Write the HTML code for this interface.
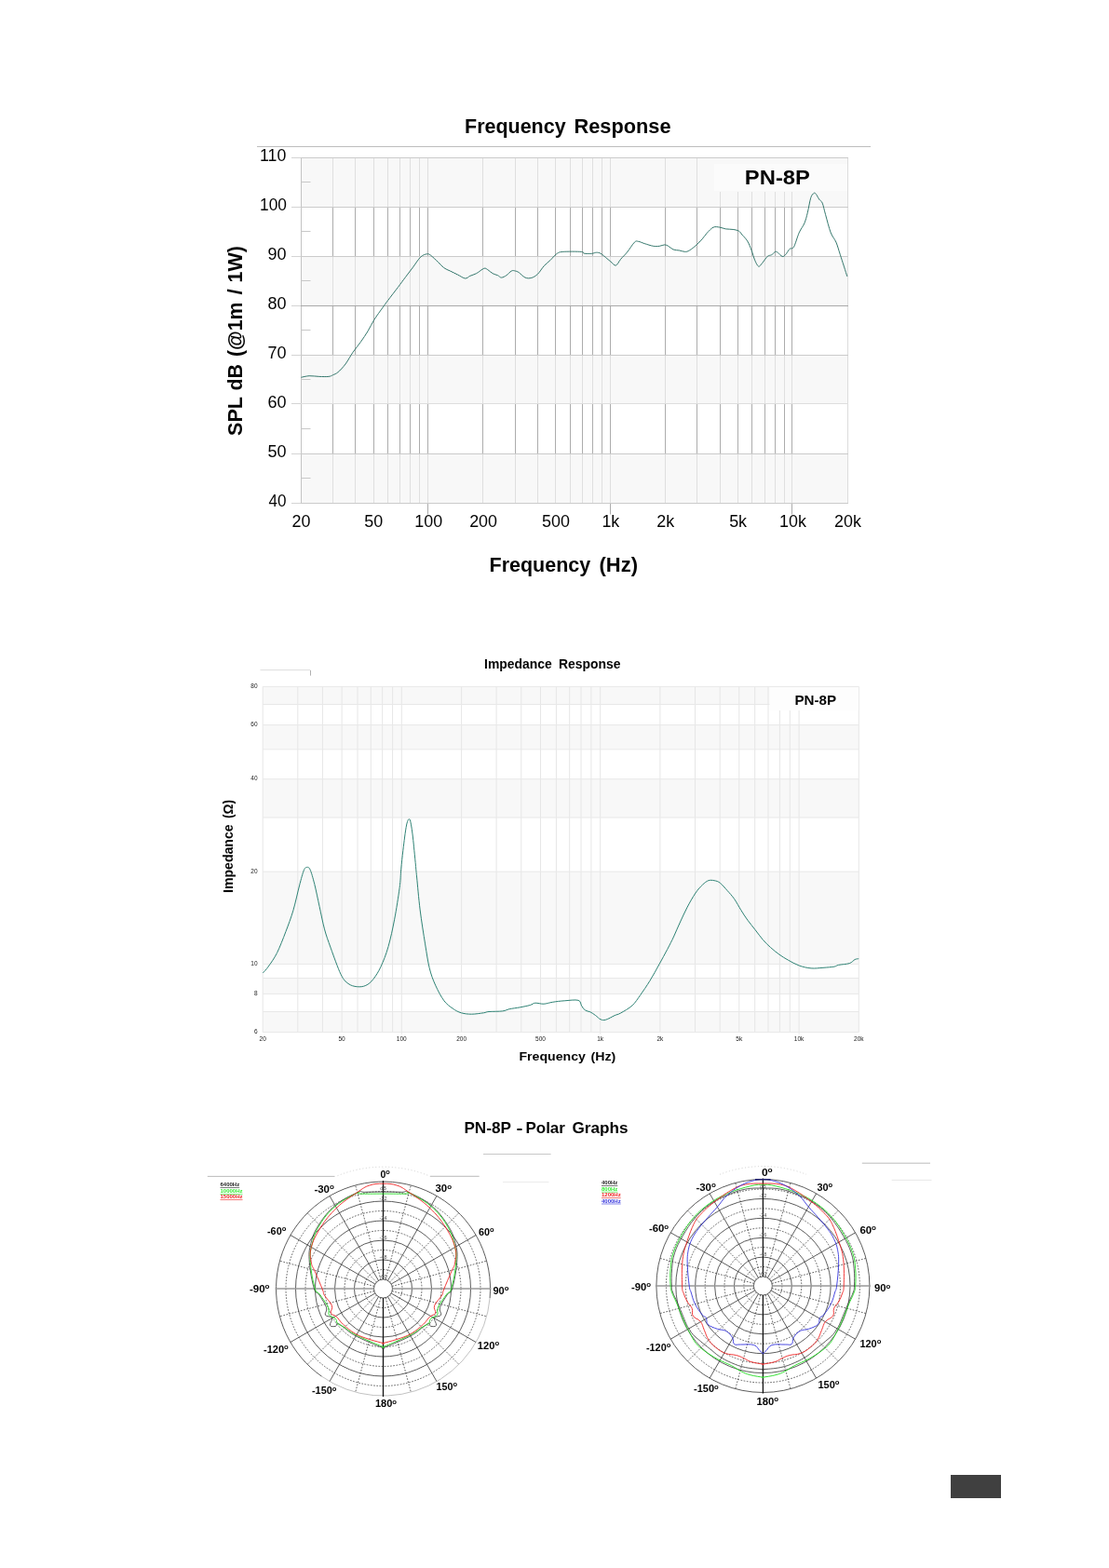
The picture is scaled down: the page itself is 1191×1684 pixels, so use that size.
<!DOCTYPE html>
<html><head><meta charset="utf-8"><title>PN-8P</title>
<style>html,body{margin:0;padding:0;background:#fff;}svg{display:block;}</style></head>
<body>
<svg width="1191" height="1684" viewBox="0 0 1191 1684">
<rect width="1191" height="1684" fill="#fff"/>
<g id="fr">
<line x1="357.5" y1="169.5" x2="357.5" y2="540.5" stroke="#acacac" stroke-width="1"/>
<line x1="381.5" y1="169.5" x2="381.5" y2="540.5" stroke="#acacac" stroke-width="1"/>
<line x1="401.5" y1="169.5" x2="401.5" y2="540.5" stroke="#acacac" stroke-width="1"/>
<line x1="416.5" y1="169.5" x2="416.5" y2="540.5" stroke="#acacac" stroke-width="1"/>
<line x1="429.5" y1="169.5" x2="429.5" y2="540.5" stroke="#acacac" stroke-width="1"/>
<line x1="440.5" y1="169.5" x2="440.5" y2="540.5" stroke="#acacac" stroke-width="1"/>
<line x1="450.5" y1="169.5" x2="450.5" y2="540.5" stroke="#acacac" stroke-width="1"/>
<line x1="459.5" y1="169.5" x2="459.5" y2="552.5" stroke="#acacac" stroke-width="1"/>
<line x1="518.5" y1="169.5" x2="518.5" y2="540.5" stroke="#acacac" stroke-width="1"/>
<line x1="553.5" y1="169.5" x2="553.5" y2="540.5" stroke="#acacac" stroke-width="1"/>
<line x1="577.5" y1="169.5" x2="577.5" y2="540.5" stroke="#acacac" stroke-width="1"/>
<line x1="596.5" y1="169.5" x2="596.5" y2="540.5" stroke="#acacac" stroke-width="1"/>
<line x1="612.5" y1="169.5" x2="612.5" y2="540.5" stroke="#acacac" stroke-width="1"/>
<line x1="625.5" y1="169.5" x2="625.5" y2="540.5" stroke="#acacac" stroke-width="1"/>
<line x1="636.5" y1="169.5" x2="636.5" y2="540.5" stroke="#acacac" stroke-width="1"/>
<line x1="646.5" y1="169.5" x2="646.5" y2="540.5" stroke="#acacac" stroke-width="1"/>
<line x1="655.5" y1="169.5" x2="655.5" y2="552.5" stroke="#acacac" stroke-width="1"/>
<line x1="714.5" y1="169.5" x2="714.5" y2="540.5" stroke="#acacac" stroke-width="1"/>
<line x1="748.5" y1="169.5" x2="748.5" y2="540.5" stroke="#acacac" stroke-width="1"/>
<line x1="773.5" y1="169.5" x2="773.5" y2="540.5" stroke="#acacac" stroke-width="1"/>
<line x1="792.5" y1="169.5" x2="792.5" y2="540.5" stroke="#acacac" stroke-width="1"/>
<line x1="807.5" y1="169.5" x2="807.5" y2="540.5" stroke="#acacac" stroke-width="1"/>
<line x1="821.5" y1="169.5" x2="821.5" y2="540.5" stroke="#acacac" stroke-width="1"/>
<line x1="832.5" y1="169.5" x2="832.5" y2="540.5" stroke="#acacac" stroke-width="1"/>
<line x1="842.5" y1="169.5" x2="842.5" y2="540.5" stroke="#acacac" stroke-width="1"/>
<line x1="850.5" y1="169.5" x2="850.5" y2="552.5" stroke="#acacac" stroke-width="1"/>
<rect x="323.5" y="169.5" width="587" height="53" fill="#f5f5f5" fill-opacity="0.7"/>
<rect x="323.5" y="275.5" width="587" height="53" fill="#f5f5f5" fill-opacity="0.7"/>
<rect x="323.5" y="381.5" width="587" height="52" fill="#f5f5f5" fill-opacity="0.7"/>
<rect x="323.5" y="487.5" width="587" height="53" fill="#f5f5f5" fill-opacity="0.7"/>
<rect x="760" y="169.5" width="150.5" height="36.5" fill="#f8f8f8"/>
<rect x="767" y="176" width="143" height="29" fill="#fbfbfb"/>
<line x1="323.5" y1="169.5" x2="323.5" y2="540.5" stroke="#c4c4c4" stroke-width="1"/>
<line x1="910.5" y1="169.5" x2="910.5" y2="540.5" stroke="#dcdcdc" stroke-width="1"/>
<line x1="313" y1="540.5" x2="323" y2="540.5" stroke="#d4d4d4" stroke-width="1"/>
<line x1="323" y1="540.5" x2="911" y2="540.5" stroke="#cbcbcb" stroke-width="1"/>
<line x1="313" y1="487.5" x2="323" y2="487.5" stroke="#d4d4d4" stroke-width="1"/>
<line x1="323" y1="487.5" x2="911" y2="487.5" stroke="#cbcbcb" stroke-width="1"/>
<line x1="313" y1="433.5" x2="323" y2="433.5" stroke="#d4d4d4" stroke-width="1"/>
<line x1="323" y1="433.5" x2="911" y2="433.5" stroke="#dedede" stroke-width="1"/>
<line x1="313" y1="381.5" x2="323" y2="381.5" stroke="#d4d4d4" stroke-width="1"/>
<line x1="323" y1="381.5" x2="911" y2="381.5" stroke="#cbcbcb" stroke-width="1"/>
<line x1="313" y1="328.5" x2="323" y2="328.5" stroke="#d4d4d4" stroke-width="1"/>
<line x1="323" y1="328.5" x2="911" y2="328.5" stroke="#a9a9a9" stroke-width="1"/>
<line x1="313" y1="275.5" x2="323" y2="275.5" stroke="#d4d4d4" stroke-width="1"/>
<line x1="323" y1="275.5" x2="911" y2="275.5" stroke="#cbcbcb" stroke-width="1"/>
<line x1="313" y1="222.5" x2="323" y2="222.5" stroke="#d4d4d4" stroke-width="1"/>
<line x1="323" y1="222.5" x2="911" y2="222.5" stroke="#cbcbcb" stroke-width="1"/>
<line x1="313" y1="169.5" x2="323" y2="169.5" stroke="#d4d4d4" stroke-width="1"/>
<line x1="323" y1="169.5" x2="911" y2="169.5" stroke="#cbcbcb" stroke-width="1"/>
<line x1="323.5" y1="195.5" x2="333.5" y2="195.5" stroke="#c8c8c8" stroke-width="1"/>
<line x1="323.5" y1="248.5" x2="333.5" y2="248.5" stroke="#c8c8c8" stroke-width="1"/>
<line x1="323.5" y1="301.5" x2="333.5" y2="301.5" stroke="#c8c8c8" stroke-width="1"/>
<line x1="323.5" y1="354.5" x2="333.5" y2="354.5" stroke="#c8c8c8" stroke-width="1"/>
<line x1="323.5" y1="407.5" x2="333.5" y2="407.5" stroke="#c8c8c8" stroke-width="1"/>
<line x1="323.5" y1="460.5" x2="333.5" y2="460.5" stroke="#c8c8c8" stroke-width="1"/>
<line x1="323.5" y1="513.5" x2="333.5" y2="513.5" stroke="#c8c8c8" stroke-width="1"/>
<line x1="276" y1="157.5" x2="935" y2="157.5" stroke="#bdbdbd" stroke-width="1"/>
<path d="M323.4,405.3 C324.8,405 328.9,403.9 332.1,403.7 C335.3,403.5 339.3,404.3 342.8,404.4 C346.3,404.5 350.4,404.7 352.9,404.4 C355.4,404.1 355.9,403.5 357.6,402.7 C359.3,401.9 360.8,401.6 363,399.7 C365.2,397.8 368.3,394.6 371,391 C373.7,387.4 376.4,382.1 379.1,378.2 C381.8,374.3 384.5,371.3 387.2,367.5 C389.9,363.7 392.8,359.4 395.2,355.4 C397.6,351.4 399.2,347.6 401.9,343.3 C404.6,339.1 408.8,333.4 411.3,329.9 C413.8,326.4 414,326.1 416.7,322.5 C419.4,318.9 424.4,312.5 427.5,308.4 C430.6,304.2 432.8,301.2 435.5,297.6 C438.2,294 440.9,290.5 443.6,286.9 C446.3,283.3 449.1,278.5 451.6,276.1 C454.1,273.8 456.6,273.1 458.4,272.8 C460.2,272.5 460.4,272.7 462.4,274.1 C464.4,275.6 468.1,279.2 470.5,281.5 C472.9,283.8 474.6,286 476.7,287.6 C478.8,289.2 480.9,289.8 483.4,291 C485.9,292.2 488.8,293.7 491.5,295 C494.2,296.3 497.4,298.8 499.6,299 C501.8,299.2 502.9,297.2 504.9,296.3 C506.9,295.4 509.1,295 511.6,293.7 C514.1,292.4 517.7,289 519.7,288.3 C521.7,287.6 522.1,288.7 523.7,289.6 C525.3,290.5 527.3,292.7 529.1,293.7 C530.9,294.7 532.9,295 534.5,295.7 C536.1,296.4 536.9,298.1 538.5,298.1 C540.1,298.1 542.1,296.9 543.9,295.7 C545.7,294.5 547.7,291.8 549.3,291 C550.9,290.2 552,290.7 553.3,291 C554.6,291.3 555.5,291.5 557.3,292.7 C559.1,293.9 561.8,297.2 564,298.1 C566.2,299.1 568.5,299 570.8,298.4 C573,297.8 575.3,296.4 577.5,294.3 C579.7,292.2 582,288.1 584.2,285.6 C586.4,283.2 588.7,281.7 590.9,279.6 C593.1,277.5 595.4,274.3 597.6,272.8 C599.8,271.3 599.8,270.8 604.3,270.4 C608.8,270 620.7,270.1 624.5,270.4 C628.3,270.7 625.3,271.9 627.2,272.2 C629.1,272.5 633.5,272.5 635.7,272.3 C637.9,272.1 638.8,271.2 640.4,271.2 C642,271.2 643.3,271.2 645.2,272.3 C647.1,273.4 650.1,276.2 651.9,277.7 C653.7,279.1 654.3,279.8 655.9,281 C657.5,282.2 659.5,285.5 661.3,285.1 C663.1,284.7 664.6,280.8 666.6,278.4 C668.6,276 670.9,274 673.4,271 C675.9,268 679.4,262.1 681.4,260.2 C683.4,258.2 683.7,259.1 685.5,259.3 C687.3,259.5 689.5,260.8 692.2,261.6 C694.9,262.4 698.9,263.9 701.6,264.3 C704.3,264.8 706.3,264.5 708.3,264.3 C710.3,264.1 712.1,262.9 713.7,262.9 C715.3,262.9 716.1,263.4 717.7,264.3 C719.3,265.2 721.1,267.2 723.1,268 C725.1,268.8 727.8,268.6 729.8,269 C731.8,269.4 733.6,270.2 735.2,270.3 C736.8,270.4 737.4,270.5 739.2,269.6 C741,268.7 743.4,267 745.9,264.9 C748.4,262.8 751.8,259.3 754,256.9 C756.2,254.4 757.3,252.3 759.3,250.2 C761.3,248.1 763.9,245.1 766.1,244.1 C768.4,243.1 770.6,243.8 772.8,244.1 C775,244.4 777,245.5 779.5,245.9 C782,246.3 785.5,246.1 787.9,246.5 C790.2,246.9 792.1,247.3 793.6,248.2 C795.1,249.1 795.5,250.3 797,252.1 C798.5,253.9 801,256.1 802.7,258.9 C804.4,261.7 805.9,265.7 807.2,269.1 C808.5,272.5 809.4,276.5 810.6,279.3 C811.8,282.1 813.3,285.5 814.6,286.1 C815.9,286.7 816.9,284.5 818.5,282.7 C820.1,280.9 822.5,276.9 824.2,275.4 C825.9,273.9 827.3,274.5 828.7,273.7 C830.1,272.9 831.6,270.7 832.7,270.3 C833.8,269.9 834.3,270.5 835.5,271.4 C836.7,272.2 838.8,275 840.1,275.4 C841.4,275.8 842.2,275 843.5,273.7 C844.8,272.4 846.5,268.8 848,267.4 C849.5,266 850.8,268.1 852.5,265.2 C854.2,262.3 856.3,254.2 858.2,249.9 C860.1,245.7 862.4,243.3 863.9,239.7 C865.4,236.1 866.2,232.8 867.3,228.3 C868.4,223.8 869.6,216 870.7,212.5 C871.8,209 873.2,208.1 874.1,207.4 C875,206.7 875.5,207.4 876.4,208.5 C877.3,209.6 878.7,212.6 879.8,214.2 C880.9,215.8 882.1,215.4 883.2,218.1 C884.3,220.8 885.1,225.3 886.6,230.6 C888.1,235.9 890.3,245 892.2,249.9 C894.1,254.8 896.2,256.1 897.9,260.1 C899.6,264.1 900.4,267.6 902.4,273.7 C904.4,279.8 908.6,293 909.8,296.9" fill="none" stroke="#2a7064" stroke-width="0.95"/>
</g>
<g id="imp">
<rect x="282.2" y="737.4" width="640.1" height="19.1" fill="#f8f8f8"/>
<rect x="282.2" y="778.6" width="640.1" height="26.1" fill="#f8f8f8"/>
<rect x="282.2" y="836.7" width="640.1" height="41.2" fill="#f8f8f8"/>
<rect x="282.2" y="936.1" width="640.1" height="99.3" fill="#f8f8f8"/>
<rect x="282.2" y="1050.5" width="640.1" height="16.9" fill="#f8f8f8"/>
<rect x="282.2" y="1086.5" width="640.1" height="22.1" fill="#f8f8f8"/>
<line x1="282.2" y1="737.4" x2="282.2" y2="1108.6" stroke="#e6e6e6" stroke-width="1"/>
<line x1="319.8" y1="737.4" x2="319.8" y2="1108.6" stroke="#e6e6e6" stroke-width="1"/>
<line x1="346.4" y1="737.4" x2="346.4" y2="1108.6" stroke="#e6e6e6" stroke-width="1"/>
<line x1="367.1" y1="737.4" x2="367.1" y2="1108.6" stroke="#e6e6e6" stroke-width="1"/>
<line x1="384" y1="737.4" x2="384" y2="1108.6" stroke="#e6e6e6" stroke-width="1"/>
<line x1="398.3" y1="737.4" x2="398.3" y2="1108.6" stroke="#e6e6e6" stroke-width="1"/>
<line x1="410.7" y1="737.4" x2="410.7" y2="1108.6" stroke="#e6e6e6" stroke-width="1"/>
<line x1="421.6" y1="737.4" x2="421.6" y2="1108.6" stroke="#e6e6e6" stroke-width="1"/>
<line x1="431.3" y1="737.4" x2="431.3" y2="1110.6" stroke="#e6e6e6" stroke-width="1"/>
<line x1="495.6" y1="737.4" x2="495.6" y2="1108.6" stroke="#e6e6e6" stroke-width="1"/>
<line x1="533.1" y1="737.4" x2="533.1" y2="1108.6" stroke="#e6e6e6" stroke-width="1"/>
<line x1="559.8" y1="737.4" x2="559.8" y2="1108.6" stroke="#e6e6e6" stroke-width="1"/>
<line x1="580.5" y1="737.4" x2="580.5" y2="1108.6" stroke="#e6e6e6" stroke-width="1"/>
<line x1="597.4" y1="737.4" x2="597.4" y2="1108.6" stroke="#e6e6e6" stroke-width="1"/>
<line x1="611.7" y1="737.4" x2="611.7" y2="1108.6" stroke="#e6e6e6" stroke-width="1"/>
<line x1="624" y1="737.4" x2="624" y2="1108.6" stroke="#e6e6e6" stroke-width="1"/>
<line x1="634.9" y1="737.4" x2="634.9" y2="1108.6" stroke="#e6e6e6" stroke-width="1"/>
<line x1="644.7" y1="737.4" x2="644.7" y2="1110.6" stroke="#e6e6e6" stroke-width="1"/>
<line x1="708.9" y1="737.4" x2="708.9" y2="1108.6" stroke="#e6e6e6" stroke-width="1"/>
<line x1="746.5" y1="737.4" x2="746.5" y2="1108.6" stroke="#e6e6e6" stroke-width="1"/>
<line x1="773.2" y1="737.4" x2="773.2" y2="1108.6" stroke="#e6e6e6" stroke-width="1"/>
<line x1="793.8" y1="737.4" x2="793.8" y2="1108.6" stroke="#e6e6e6" stroke-width="1"/>
<line x1="810.7" y1="737.4" x2="810.7" y2="1108.6" stroke="#e6e6e6" stroke-width="1"/>
<line x1="825" y1="737.4" x2="825" y2="1108.6" stroke="#e6e6e6" stroke-width="1"/>
<line x1="837.4" y1="763" x2="837.4" y2="1108.6" stroke="#e6e6e6" stroke-width="1"/>
<line x1="848.3" y1="763" x2="848.3" y2="1108.6" stroke="#e6e6e6" stroke-width="1"/>
<line x1="858.1" y1="763" x2="858.1" y2="1110.6" stroke="#e6e6e6" stroke-width="1"/>
<line x1="922.3" y1="737.4" x2="922.3" y2="1108.6" stroke="#e6e6e6" stroke-width="1"/>
<line x1="282.2" y1="737.4" x2="922.3" y2="737.4" stroke="#e8e8e8" stroke-width="1"/>
<line x1="282.2" y1="756.5" x2="922.3" y2="756.5" stroke="#e8e8e8" stroke-width="1"/>
<line x1="282.2" y1="778.6" x2="922.3" y2="778.6" stroke="#e8e8e8" stroke-width="1"/>
<line x1="282.2" y1="804.8" x2="922.3" y2="804.8" stroke="#e8e8e8" stroke-width="1"/>
<line x1="282.2" y1="836.7" x2="922.3" y2="836.7" stroke="#e8e8e8" stroke-width="1"/>
<line x1="282.2" y1="878" x2="922.3" y2="878" stroke="#e8e8e8" stroke-width="1"/>
<line x1="282.2" y1="936.1" x2="922.3" y2="936.1" stroke="#e8e8e8" stroke-width="1"/>
<line x1="282.2" y1="1035.4" x2="922.3" y2="1035.4" stroke="#e8e8e8" stroke-width="1"/>
<line x1="282.2" y1="1050.5" x2="922.3" y2="1050.5" stroke="#e8e8e8" stroke-width="1"/>
<line x1="282.2" y1="1067.4" x2="922.3" y2="1067.4" stroke="#e8e8e8" stroke-width="1"/>
<line x1="282.2" y1="1086.5" x2="922.3" y2="1086.5" stroke="#e8e8e8" stroke-width="1"/>
<line x1="282.2" y1="1108.6" x2="922.3" y2="1108.6" stroke="#e8e8e8" stroke-width="1"/>
<rect x="826.5" y="738" width="95.5" height="25" fill="#fdfdfd"/>
<line x1="279.5" y1="719.6" x2="333.5" y2="719.6" stroke="#dedede" stroke-width="1"/>
<line x1="333.5" y1="720" x2="333.5" y2="725.6" stroke="#b0b0b0" stroke-width="1"/>
<path d="M282.4,1044.9 C283.3,1043.8 285.6,1041.8 288.1,1038.2 C290.6,1034.6 294.4,1029.7 297.5,1023.4 C300.6,1017.1 304,1008.2 306.9,1000.6 C309.8,993 312.4,986.1 314.9,977.8 C317.3,969.5 319.7,958.1 321.6,950.9 C323.5,943.7 325,938 326.3,934.8 C327.6,931.5 328.6,931.5 329.7,931.4 C330.8,931.3 331.8,931.1 333.1,934.1 C334.5,937.1 336.1,943 337.8,949.6 C339.5,956.2 341.3,965.7 343.1,973.7 C344.9,981.8 346.5,990.5 348.5,997.9 C350.5,1005.3 352.3,1010 355.2,1018.1 C358.1,1026.2 362.9,1039.9 366,1046.3 C369.1,1052.7 371.1,1054.2 374,1056.4 C376.9,1058.6 380.3,1059.4 383.4,1059.7 C386.5,1060 389.9,1059.8 392.8,1058.4 C395.7,1057.1 398.2,1055 400.9,1051.6 C403.6,1048.2 406.3,1044 409,1038.2 C411.7,1032.4 414.6,1025.2 417,1016.7 C419.4,1008.2 421.7,997.7 423.7,987.2 C425.7,976.7 427.9,962.5 429.1,953.6 C430.3,944.7 430.1,940.4 430.7,933.8 C431.3,927.1 432.1,919.5 432.8,913.7 C433.5,907.9 434,903.6 434.6,899 C435.2,894.4 436,889 436.6,886 C437.2,883 437.8,881.8 438.2,880.8 C438.6,879.8 438.9,879.8 439.3,879.8 C439.7,879.8 440.1,879.6 440.5,881 C440.9,882.4 441.4,885 441.9,888 C442.4,891 442.9,894.7 443.4,899 C443.9,903.3 444.4,908.5 444.9,913.7 C445.4,918.9 446.1,925.7 446.5,930.4 C446.9,935.1 446.8,934.2 447.6,942 C448.4,949.8 449.6,964.9 451.1,976.9 C452.6,988.9 454.9,1003.4 456.6,1013.9 C458.3,1024.4 459.4,1032.3 461.2,1039.7 C463,1047.1 465.1,1052.4 467.7,1058.2 C470.3,1064 473.8,1070.7 476.9,1074.8 C480,1078.9 483.1,1080.9 486.2,1083.1 C489.3,1085.3 492,1086.8 495.4,1087.8 C498.8,1088.8 502.5,1089.2 506.5,1089.2 C510.5,1089.2 516.3,1088.2 519.4,1087.8 C522.5,1087.3 521.6,1086.8 525,1086.5 C528.4,1086.2 536,1086.4 539.7,1085.9 C543.4,1085.4 544,1084.4 547.1,1083.7 C550.2,1083 554.5,1082.6 558.2,1081.9 C561.9,1081.2 566.5,1080.3 569.3,1079.5 C572.1,1078.7 572.3,1077.4 574.8,1077.2 C577.3,1077 581,1078.4 584.1,1078.2 C587.2,1078 589.6,1076.9 593.3,1076.3 C597,1075.7 601.6,1075.1 606.2,1074.8 C610.8,1074.5 617.9,1073.4 621,1074.3 C624.1,1075.2 623.5,1078.6 624.7,1080.4 C625.9,1082.2 626.9,1083.9 628.4,1085 C629.9,1086.1 632,1085.9 633.9,1086.8 C635.8,1087.7 637.6,1089.2 639.5,1090.5 C641.4,1091.8 643.1,1094 645,1094.8 C646.9,1095.6 648.1,1095.9 650.6,1095.2 C653.1,1094.5 657.5,1091.8 660.1,1090.6 C662.7,1089.4 663.2,1089.9 666.4,1088.1 C669.5,1086.3 675.4,1083.2 679,1079.9 C682.6,1076.6 684.6,1072.9 687.8,1068.5 C690.9,1064.1 694.5,1058.9 697.9,1053.4 C701.2,1048 704.8,1041.5 707.9,1035.8 C711,1030.1 714.2,1024.4 716.8,1019.4 C719.4,1014.4 721.2,1010.9 723.5,1006 C725.8,1001.1 728.1,995.3 730.6,990 C733.1,984.7 735.5,979.3 738.2,974.1 C740.9,968.9 744.3,963 747,959 C749.7,955 752.2,952.4 754.5,950.2 C756.8,948 758.7,946.5 760.8,945.7 C762.9,945 765,945.3 767.1,945.7 C769.2,946.1 771.1,946.5 773.4,948.3 C775.7,950.1 778.5,953.6 781,956.4 C783.5,959.2 786,961.8 788.5,965.3 C791,968.8 793.5,973.8 795.9,977.6 C798.3,981.4 800.3,984.7 802.9,988.2 C805.5,991.7 808.5,995.3 811.2,998.8 C814,1002.3 816.7,1006.3 819.4,1009.4 C822.1,1012.5 824.7,1015 827.6,1017.6 C830.5,1020.2 833.9,1023 837,1025.2 C840.1,1027.5 842.9,1029.1 846.4,1031.1 C849.9,1033.1 854.1,1035.5 858.2,1037 C862.3,1038.5 866.8,1039.5 871.1,1039.9 C875.4,1040.3 879.9,1039.6 884,1039.3 C888.1,1039 893,1038.7 895.8,1038.2 C898.5,1037.7 897.8,1037 900.5,1036.4 C903.2,1035.8 909.4,1035.6 912.3,1034.6 C915.2,1033.6 916.5,1031.3 918.1,1030.5 C919.8,1029.7 921.5,1029.8 922.2,1029.6" fill="none" stroke="#2e8274" stroke-width="1"/>
<text x="276.5" y="738.8" text-anchor="end" font-family="'Liberation Sans', Arial, sans-serif" font-size="6.5" fill="#222">80</text>
<text x="276.5" y="780" text-anchor="end" font-family="'Liberation Sans', Arial, sans-serif" font-size="6.5" fill="#222">60</text>
<text x="276.5" y="838.1" text-anchor="end" font-family="'Liberation Sans', Arial, sans-serif" font-size="6.5" fill="#222">40</text>
<text x="276.5" y="937.5" text-anchor="end" font-family="'Liberation Sans', Arial, sans-serif" font-size="6.5" fill="#222">20</text>
<text x="276.5" y="1036.8" text-anchor="end" font-family="'Liberation Sans', Arial, sans-serif" font-size="6.5" fill="#222">10</text>
<text x="276.5" y="1068.8" text-anchor="end" font-family="'Liberation Sans', Arial, sans-serif" font-size="6.5" fill="#222">8</text>
<text x="276.5" y="1110" text-anchor="end" font-family="'Liberation Sans', Arial, sans-serif" font-size="6.5" fill="#222">6</text>
<text x="282.2" y="1118.2" text-anchor="middle" font-family="'Liberation Sans', Arial, sans-serif" font-size="6.5" fill="#222">20</text>
<text x="367.1" y="1118.2" text-anchor="middle" font-family="'Liberation Sans', Arial, sans-serif" font-size="6.5" fill="#222">50</text>
<text x="431.3" y="1118.2" text-anchor="middle" font-family="'Liberation Sans', Arial, sans-serif" font-size="6.5" fill="#222">100</text>
<text x="495.6" y="1118.2" text-anchor="middle" font-family="'Liberation Sans', Arial, sans-serif" font-size="6.5" fill="#222">200</text>
<text x="580.5" y="1118.2" text-anchor="middle" font-family="'Liberation Sans', Arial, sans-serif" font-size="6.5" fill="#222">500</text>
<text x="644.7" y="1118.2" text-anchor="middle" font-family="'Liberation Sans', Arial, sans-serif" font-size="6.5" fill="#222">1k</text>
<text x="708.9" y="1118.2" text-anchor="middle" font-family="'Liberation Sans', Arial, sans-serif" font-size="6.5" fill="#222">2k</text>
<text x="793.8" y="1118.2" text-anchor="middle" font-family="'Liberation Sans', Arial, sans-serif" font-size="6.5" fill="#222">5k</text>
<text x="858.1" y="1118.2" text-anchor="middle" font-family="'Liberation Sans', Arial, sans-serif" font-size="6.5" fill="#222">10k</text>
<text x="922.3" y="1118.2" text-anchor="middle" font-family="'Liberation Sans', Arial, sans-serif" font-size="6.5" fill="#222">20k</text>
</g>
<line x1="519" y1="1239.5" x2="591.6" y2="1239.5" stroke="#c8c8c8" stroke-width="1"/>
<g id="polL">
<line x1="222.8" y1="1263.4" x2="359.5" y2="1263.4" stroke="#bbb" stroke-width="1"/>
<line x1="461.8" y1="1263.3" x2="514.7" y2="1263.3" stroke="#bbb" stroke-width="1"/>
<path d="M 362.5 1262.7 A 131 131 0 0 1 460.5 1262.7" fill="none" stroke="#bbb" stroke-width="0.7" stroke-dasharray="1,2.5"/>
<line x1="414.1" y1="1374.3" x2="441.3" y2="1272.9" stroke="#333" stroke-width="0.75" stroke-dasharray="1.7,1.5"/>
<line x1="418.6" y1="1376.9" x2="492.8" y2="1302.7" stroke="#333" stroke-width="0.75" stroke-dasharray="1.7,1.5"/>
<line x1="421.2" y1="1381.4" x2="522.6" y2="1354.2" stroke="#333" stroke-width="0.75" stroke-dasharray="1.7,1.5"/>
<line x1="421.2" y1="1386.6" x2="522.6" y2="1413.8" stroke="#333" stroke-width="0.75" stroke-dasharray="1.7,1.5"/>
<line x1="418.6" y1="1391.1" x2="492.8" y2="1465.3" stroke="#333" stroke-width="0.75" stroke-dasharray="1.7,1.5"/>
<line x1="414.1" y1="1393.7" x2="441.3" y2="1495.1" stroke="#333" stroke-width="0.75" stroke-dasharray="1.7,1.5"/>
<line x1="408.9" y1="1393.7" x2="381.7" y2="1495.1" stroke="#333" stroke-width="0.75" stroke-dasharray="1.7,1.5"/>
<line x1="404.4" y1="1391.1" x2="330.2" y2="1465.3" stroke="#333" stroke-width="0.75" stroke-dasharray="1.7,1.5"/>
<line x1="401.8" y1="1386.6" x2="300.4" y2="1413.8" stroke="#333" stroke-width="0.75" stroke-dasharray="1.7,1.5"/>
<line x1="401.8" y1="1381.4" x2="300.4" y2="1354.2" stroke="#333" stroke-width="0.75" stroke-dasharray="1.7,1.5"/>
<line x1="404.4" y1="1376.9" x2="330.2" y2="1302.7" stroke="#333" stroke-width="0.75" stroke-dasharray="1.7,1.5"/>
<line x1="408.9" y1="1374.3" x2="381.7" y2="1272.9" stroke="#333" stroke-width="0.75" stroke-dasharray="1.7,1.5"/>
<circle cx="411.5" cy="1384" r="104.5" fill="none" stroke="#333" stroke-width="0.75" stroke-dasharray="1.7,1.5"/>
<circle cx="411.5" cy="1384" r="83.5" fill="none" stroke="#333" stroke-width="0.75" stroke-dasharray="1.7,1.5"/>
<circle cx="411.5" cy="1384" r="62.5" fill="none" stroke="#333" stroke-width="0.75" stroke-dasharray="1.7,1.5"/>
<circle cx="411.5" cy="1384" r="41.5" fill="none" stroke="#333" stroke-width="0.75" stroke-dasharray="1.7,1.5"/>
<circle cx="411.5" cy="1384" r="20.5" fill="none" stroke="#333" stroke-width="0.75" stroke-dasharray="1.7,1.5"/>
<path d="M345.5,1478.2 A115,115 0 1 1 526.1,1394" fill="none" stroke="#333" stroke-width="0.8"/>
<path d="M526.1,1394 A115,115 0 0 1 345.5,1478.2" fill="none" stroke="#999" stroke-width="0.6"/>
<circle cx="411.5" cy="1384" r="94" fill="none" stroke="#333" stroke-width="0.8"/>
<circle cx="411.5" cy="1384" r="73" fill="none" stroke="#333" stroke-width="0.8"/>
<circle cx="411.5" cy="1384" r="52" fill="none" stroke="#333" stroke-width="0.8"/>
<circle cx="411.5" cy="1384" r="31" fill="none" stroke="#333" stroke-width="0.8"/>
<circle cx="411.5" cy="1384" r="10" fill="none" stroke="#333" stroke-width="0.8"/>
<line x1="416.5" y1="1375.3" x2="469" y2="1284.4" stroke="#333" stroke-width="0.8"/>
<line x1="420.2" y1="1379" x2="511.1" y2="1326.5" stroke="#333" stroke-width="0.8"/>
<line x1="420.2" y1="1389" x2="511.1" y2="1441.5" stroke="#333" stroke-width="0.8"/>
<line x1="416.5" y1="1392.7" x2="469" y2="1483.6" stroke="#333" stroke-width="0.8"/>
<line x1="406.5" y1="1392.7" x2="354" y2="1483.6" stroke="#333" stroke-width="0.8"/>
<line x1="402.8" y1="1389" x2="311.9" y2="1441.5" stroke="#333" stroke-width="0.8"/>
<line x1="402.8" y1="1379" x2="311.9" y2="1326.5" stroke="#333" stroke-width="0.8"/>
<line x1="406.5" y1="1375.3" x2="354" y2="1284.4" stroke="#333" stroke-width="0.8"/>
<line x1="295.5" y1="1384" x2="401.5" y2="1384" stroke="#999" stroke-width="1.6"/>
<line x1="421.5" y1="1384" x2="527.5" y2="1384" stroke="#999" stroke-width="1.6"/>
<line x1="411.5" y1="1268" x2="411.5" y2="1374" stroke="#111" stroke-width="1.3"/>
<line x1="411.5" y1="1394" x2="411.5" y2="1500" stroke="#111" stroke-width="1.3"/>
<text x="411.5" y="1278" text-anchor="middle" font-family="'Liberation Sans', Arial, sans-serif" font-size="5.5" fill="#555">dB</text>
<text x="411.5" y="1288.5" text-anchor="middle" font-family="'Liberation Sans', Arial, sans-serif" font-size="5.5" fill="#555">-12</text>
<text x="411.5" y="1309.5" text-anchor="middle" font-family="'Liberation Sans', Arial, sans-serif" font-size="5.5" fill="#555">-24</text>
<text x="411.5" y="1330.5" text-anchor="middle" font-family="'Liberation Sans', Arial, sans-serif" font-size="5.5" fill="#555">-36</text>
<text x="411.5" y="1351.5" text-anchor="middle" font-family="'Liberation Sans', Arial, sans-serif" font-size="5.5" fill="#555">-48</text>
<text x="411.5" y="1372.5" text-anchor="middle" font-family="'Liberation Sans', Arial, sans-serif" font-size="5.5" fill="#555">-60</text>
<path d="M411.5,1280.1 C403.6,1280.1 397.3,1280.1 391.7,1280.3 C386.1,1280.4 389.9,1278.1 383.7,1280.9 C377.4,1283.7 368.7,1287.3 360.5,1294.2 C352.2,1301.1 347.7,1307.1 342.4,1315.4 C337.1,1323.6 335.8,1327.4 333.8,1335.5 C331.8,1343.5 331.6,1346 332.3,1355.7 C333,1365.3 335.3,1377 337.3,1383.9 C339.3,1390.8 339.7,1386 342.4,1390 C345,1394.1 349,1399.7 350.5,1404.2 C351.9,1408.6 348.2,1410.1 349.4,1412.3 C350.6,1414.5 355.5,1413.1 356.5,1415.3 C357.5,1417.5 353.7,1421.5 354.5,1423.4 C355.3,1425.2 358.9,1424.7 360.5,1424.3 C362.1,1423.9 360.7,1421 362.5,1421.3 C364.3,1421.6 366.1,1423.4 369.5,1425.9 C372.9,1428.3 374.2,1430.3 379.6,1433.4 C385.1,1436.6 390.4,1438.8 396.8,1441.7 C403.2,1444.5 408.6,1446.5 411.5,1447.7 C414.4,1448.9 408.6,1448.9 411.5,1447.7 C414.4,1446.5 419.8,1444.5 426.2,1441.7 C432.6,1438.8 437.9,1436.6 443.4,1433.4 C448.8,1430.3 450.1,1428.3 453.5,1425.9 C456.9,1423.4 458.7,1421.6 460.5,1421.3 C462.3,1421 460.9,1423.9 462.5,1424.3 C464.1,1424.7 467.7,1425.2 468.5,1423.4 C469.3,1421.5 465.5,1417.5 466.5,1415.3 C467.5,1413.1 472.4,1414.5 473.6,1412.3 C474.8,1410.1 471.1,1408.6 472.5,1404.2 C474,1399.7 478,1394.1 480.6,1390 C483.3,1386 483.7,1390.8 485.7,1383.9 C487.7,1377 490,1365.3 490.7,1355.7 C491.4,1346 491.2,1343.5 489.2,1335.5 C487.2,1327.4 485.9,1323.6 480.6,1315.4 C475.3,1307.1 470.8,1301.1 462.5,1294.2 C454.3,1287.3 445.6,1283.7 439.3,1280.9 C433.1,1278.1 436.9,1280.4 431.3,1280.3 C425.7,1280.1 419.4,1280.1 411.5,1280.1Z" fill="none" stroke="#333" stroke-width="0.8"/>
<path d="M411.5,1282.1 C401.6,1282.1 392.2,1282.3 386.7,1282.1 C381.1,1281.9 389,1278.5 383.7,1281.1 C378.5,1283.7 368.5,1288.4 360.5,1295.2 C352.4,1302.1 348.4,1307.3 343.4,1315.4 C338.3,1323.4 337.4,1327.4 335.3,1335.5 C333.3,1343.5 332.7,1346 333.3,1355.7 C333.9,1365.4 336.3,1377 338.3,1383.9 C340.3,1390.8 340.5,1386 343.4,1390.1 C346.2,1394.1 350.5,1399.8 352.5,1404.2 C354.5,1408.6 351.8,1409.8 353.4,1412.2 C355,1414.6 358.6,1414.5 360.4,1416.3 C362.3,1418.1 360.7,1419.5 362.5,1421.3 C364.3,1423.1 366.1,1423.2 369.6,1425.4 C373,1427.6 374.2,1429.3 379.6,1432.3 C385.1,1435.3 390.4,1437.6 396.8,1440.4 C403.2,1443.2 408.6,1445.3 411.5,1446.5 C414.4,1447.7 408.6,1447.7 411.5,1446.5 C414.4,1445.3 419.8,1443.2 426.2,1440.4 C432.6,1437.6 437.9,1435.3 443.4,1432.3 C448.8,1429.3 450,1427.6 453.4,1425.4 C456.9,1423.2 458.7,1423.1 460.5,1421.3 C462.3,1419.5 460.7,1418.1 462.6,1416.3 C464.4,1414.5 468,1414.6 469.6,1412.2 C471.2,1409.8 468.5,1408.6 470.5,1404.2 C472.5,1399.8 476.8,1394.1 479.6,1390.1 C482.5,1386 482.7,1390.8 484.7,1383.9 C486.7,1377 489.1,1365.4 489.7,1355.7 C490.3,1346 489.7,1343.5 487.7,1335.5 C485.6,1327.4 484.7,1323.4 479.6,1315.4 C474.6,1307.3 470.6,1302.1 462.5,1295.2 C454.5,1288.4 444.5,1283.7 439.3,1281.1 C434,1278.5 441.9,1281.9 436.3,1282.1 C430.8,1282.3 421.4,1282.1 411.5,1282.1Z" fill="none" stroke="#22dd22" stroke-width="0.9"/>
<path d="M411.5,1271.2 C405.6,1271.2 402.3,1271.2 396.7,1273.1 C391.1,1275 390.7,1275.8 383.6,1280.6 C376.5,1285.4 369.3,1289.7 361.4,1297.3 C353.6,1304.9 349.7,1310 344.3,1318.4 C338.9,1326.9 336.3,1332.1 334.3,1339.6 C332.3,1347.1 333.5,1350.5 334.3,1355.8 C335.1,1361 335.9,1359.9 338.3,1365.8 C340.8,1371.6 344.4,1380 346.4,1385 C348.4,1390.1 346.4,1387.6 348.4,1391.1 C350.4,1394.5 355,1398.4 356.4,1402.2 C357.8,1406 354.4,1407.8 355.4,1410.3 C356.5,1412.7 358.9,1411.8 361.5,1414.3 C364.2,1416.7 364.5,1418.7 368.5,1422.3 C372.5,1425.9 376,1429.2 381.6,1432.4 C387.2,1435.6 390.7,1436.4 396.7,1438.4 C402.7,1440.4 408.5,1441.7 411.5,1442.5 C414.5,1443.3 408.5,1443.3 411.5,1442.5 C414.5,1441.7 420.3,1440.4 426.3,1438.4 C432.3,1436.4 435.8,1435.6 441.4,1432.4 C447,1429.2 450.5,1425.9 454.5,1422.3 C458.5,1418.7 458.8,1416.7 461.5,1414.3 C464.1,1411.8 466.5,1412.7 467.6,1410.3 C468.6,1407.8 465.2,1406 466.6,1402.2 C468,1398.4 472.6,1394.5 474.6,1391.1 C476.6,1387.6 474.6,1390.1 476.6,1385 C478.6,1380 482.2,1371.6 484.7,1365.8 C487.1,1359.9 487.9,1361 488.7,1355.8 C489.5,1350.5 490.7,1347.1 488.7,1339.6 C486.7,1332.1 484.1,1326.9 478.7,1318.4 C473.3,1310 469.4,1304.9 461.6,1297.3 C453.7,1289.7 446.5,1285.4 439.4,1280.6 C432.3,1275.8 431.9,1275 426.3,1273.1 C420.7,1271.2 417.4,1271.2 411.5,1271.2Z" fill="none" stroke="#ee2222" stroke-width="0.9"/>
<text x="236.5" y="1274.4" font-family="'Liberation Sans', Arial, sans-serif" font-weight="bold" font-size="6" fill="#222" text-decoration="underline">6400Hz</text>
<text x="236.5" y="1281.4" font-family="'Liberation Sans', Arial, sans-serif" font-weight="bold" font-size="6" fill="#33ee33" text-decoration="underline">10000Hz</text>
<text x="236.5" y="1287.3" font-family="'Liberation Sans', Arial, sans-serif" font-weight="bold" font-size="6" fill="#ee2222" text-decoration="underline">15000Hz</text>
</g>
<g id="polR">
<line x1="925.8" y1="1249.2" x2="999" y2="1249.2" stroke="#bbb" stroke-width="1"/>
<line x1="957.6" y1="1267.4" x2="1000.5" y2="1267.4" stroke="#e8e8e8" stroke-width="1"/>
<line x1="540" y1="1269.5" x2="589.5" y2="1269.5" stroke="#ececec" stroke-width="1"/>
<path d="M 773 1261.3 A 128.5 128.5 0 0 1 866 1261.3" fill="none" stroke="#bbb" stroke-width="0.7" stroke-dasharray="1,2.5"/>
<line x1="822" y1="1371.3" x2="849" y2="1270.4" stroke="#333" stroke-width="0.75" stroke-dasharray="1.7,1.5"/>
<line x1="826.5" y1="1373.9" x2="900.4" y2="1300" stroke="#333" stroke-width="0.75" stroke-dasharray="1.7,1.5"/>
<line x1="829.1" y1="1378.4" x2="930" y2="1351.4" stroke="#333" stroke-width="0.75" stroke-dasharray="1.7,1.5"/>
<line x1="829.1" y1="1383.6" x2="930" y2="1410.6" stroke="#333" stroke-width="0.75" stroke-dasharray="1.7,1.5"/>
<line x1="826.5" y1="1388.1" x2="900.4" y2="1462" stroke="#333" stroke-width="0.75" stroke-dasharray="1.7,1.5"/>
<line x1="822" y1="1390.7" x2="849" y2="1491.6" stroke="#333" stroke-width="0.75" stroke-dasharray="1.7,1.5"/>
<line x1="816.8" y1="1390.7" x2="789.8" y2="1491.6" stroke="#333" stroke-width="0.75" stroke-dasharray="1.7,1.5"/>
<line x1="812.3" y1="1388.1" x2="738.4" y2="1462" stroke="#333" stroke-width="0.75" stroke-dasharray="1.7,1.5"/>
<line x1="809.7" y1="1383.6" x2="708.8" y2="1410.6" stroke="#333" stroke-width="0.75" stroke-dasharray="1.7,1.5"/>
<line x1="809.7" y1="1378.4" x2="708.8" y2="1351.4" stroke="#333" stroke-width="0.75" stroke-dasharray="1.7,1.5"/>
<line x1="812.3" y1="1373.9" x2="738.4" y2="1300" stroke="#333" stroke-width="0.75" stroke-dasharray="1.7,1.5"/>
<line x1="816.8" y1="1371.3" x2="789.8" y2="1270.4" stroke="#333" stroke-width="0.75" stroke-dasharray="1.7,1.5"/>
<circle cx="819.4" cy="1381" r="104" fill="none" stroke="#333" stroke-width="0.75" stroke-dasharray="1.7,1.5"/>
<circle cx="819.4" cy="1381" r="83.1" fill="none" stroke="#333" stroke-width="0.75" stroke-dasharray="1.7,1.5"/>
<circle cx="819.4" cy="1381" r="62.2" fill="none" stroke="#333" stroke-width="0.75" stroke-dasharray="1.7,1.5"/>
<circle cx="819.4" cy="1381" r="41.4" fill="none" stroke="#333" stroke-width="0.75" stroke-dasharray="1.7,1.5"/>
<circle cx="819.4" cy="1381" r="20.5" fill="none" stroke="#333" stroke-width="0.75" stroke-dasharray="1.7,1.5"/>
<circle cx="819.4" cy="1381" r="114.5" fill="none" stroke="#333" stroke-width="0.8"/>
<circle cx="819.4" cy="1381" r="93.6" fill="none" stroke="#333" stroke-width="0.8"/>
<circle cx="819.4" cy="1381" r="72.7" fill="none" stroke="#333" stroke-width="0.8"/>
<circle cx="819.4" cy="1381" r="51.8" fill="none" stroke="#333" stroke-width="0.8"/>
<circle cx="819.4" cy="1381" r="30.9" fill="none" stroke="#333" stroke-width="0.8"/>
<circle cx="819.4" cy="1381" r="10" fill="none" stroke="#333" stroke-width="0.8"/>
<line x1="824.4" y1="1372.3" x2="876.6" y2="1281.8" stroke="#333" stroke-width="0.8"/>
<line x1="828.1" y1="1376" x2="918.6" y2="1323.8" stroke="#333" stroke-width="0.8"/>
<line x1="828.1" y1="1386" x2="918.6" y2="1438.2" stroke="#333" stroke-width="0.8"/>
<line x1="824.4" y1="1389.7" x2="876.6" y2="1480.2" stroke="#333" stroke-width="0.8"/>
<line x1="814.4" y1="1389.7" x2="762.1" y2="1480.2" stroke="#333" stroke-width="0.8"/>
<line x1="810.7" y1="1386" x2="720.2" y2="1438.2" stroke="#333" stroke-width="0.8"/>
<line x1="810.7" y1="1376" x2="720.2" y2="1323.8" stroke="#333" stroke-width="0.8"/>
<line x1="814.4" y1="1372.3" x2="762.1" y2="1281.8" stroke="#333" stroke-width="0.8"/>
<line x1="703.9" y1="1381" x2="809.4" y2="1381" stroke="#999" stroke-width="1.6"/>
<line x1="829.4" y1="1381" x2="934.9" y2="1381" stroke="#999" stroke-width="1.6"/>
<line x1="819.4" y1="1265.5" x2="819.4" y2="1371" stroke="#111" stroke-width="1.3"/>
<line x1="819.4" y1="1391" x2="819.4" y2="1496.5" stroke="#111" stroke-width="1.3"/>
<text x="819.4" y="1275.5" text-anchor="middle" font-family="'Liberation Sans', Arial, sans-serif" font-size="5.5" fill="#555">dB</text>
<text x="819.4" y="1285.9" text-anchor="middle" font-family="'Liberation Sans', Arial, sans-serif" font-size="5.5" fill="#555">-12</text>
<text x="819.4" y="1306.8" text-anchor="middle" font-family="'Liberation Sans', Arial, sans-serif" font-size="5.5" fill="#555">-24</text>
<text x="819.4" y="1327.7" text-anchor="middle" font-family="'Liberation Sans', Arial, sans-serif" font-size="5.5" fill="#555">-36</text>
<text x="819.4" y="1348.6" text-anchor="middle" font-family="'Liberation Sans', Arial, sans-serif" font-size="5.5" fill="#555">-48</text>
<text x="819.4" y="1369.5" text-anchor="middle" font-family="'Liberation Sans', Arial, sans-serif" font-size="5.5" fill="#555">-60</text>
<path d="M819.4,1276.1 C811.9,1276.1 808.5,1275.6 800.7,1277.1 C792.9,1278.6 788.1,1280.5 780.5,1283.7 C772.8,1286.9 769.2,1288.3 762.4,1293.2 C755.5,1298.1 752.1,1301.5 746.2,1308.4 C740.4,1315.2 737.5,1320.1 733.1,1327.5 C728.8,1335 726.9,1338.5 724.6,1345.6 C722.3,1352.6 722.3,1355.6 721.6,1362.7 C720.9,1369.8 721.1,1375.7 721.3,1380.8 C721.5,1385.9 721.4,1384.7 722.6,1388.1 C723.7,1391.6 725.2,1393.7 727.1,1398.1 C729,1402.5 730.1,1405.3 732.2,1410.2 C734.2,1415 735.6,1418.9 737.2,1422.3 C738.8,1425.8 738.7,1425.1 740.1,1427.3 C741.6,1429.5 741.9,1430.8 744.3,1433.4 C746.7,1436 748.6,1437.4 752.2,1440.4 C755.8,1443.5 758.3,1445.3 762.3,1448.5 C766.4,1451.7 767.7,1453.5 772.4,1456.6 C777,1459.6 779.9,1461.2 785.5,1463.6 C791.2,1466 793.8,1467.2 800.6,1468.6 C807.4,1470 815.6,1470.3 819.4,1470.7 C823.2,1471.1 815.6,1471.1 819.4,1470.7 C823.2,1470.3 831.4,1470 838.2,1468.6 C845,1467.2 847.6,1466 853.3,1463.6 C858.9,1461.2 861.8,1459.6 866.4,1456.6 C871.1,1453.5 872.4,1451.7 876.5,1448.5 C880.5,1445.3 883,1443.5 886.6,1440.4 C890.2,1437.4 892.1,1436 894.5,1433.4 C896.9,1430.8 897.2,1429.5 898.7,1427.3 C900.1,1425.1 900,1425.8 901.6,1422.3 C903.2,1418.9 904.6,1415 906.6,1410.2 C908.7,1405.3 909.8,1402.5 911.7,1398.1 C913.6,1393.7 915.1,1391.6 916.2,1388.1 C917.4,1384.7 917.3,1385.9 917.5,1380.8 C917.7,1375.7 917.9,1369.8 917.2,1362.7 C916.5,1355.6 916.5,1352.6 914.2,1345.6 C911.9,1338.5 910,1335 905.7,1327.5 C901.3,1320.1 898.4,1315.2 892.6,1308.4 C886.7,1301.5 883.3,1298.1 876.4,1293.2 C869.6,1288.3 866,1286.9 858.3,1283.7 C850.7,1280.5 845.9,1278.6 838.1,1277.1 C830.3,1275.6 826.9,1276.1 819.4,1276.1Z" fill="none" stroke="#333" stroke-width="0.8"/>
<path d="M819.4,1272.1 C811.9,1272.1 808.5,1273.1 800.7,1275.1 C792.9,1277.2 788.1,1278.8 780.5,1282.2 C772.8,1285.6 769.5,1287.2 762.4,1292.2 C755.4,1297.3 751.3,1300.5 745.2,1307.4 C739.2,1314.2 736.6,1318.8 732.1,1326.5 C727.7,1334.1 725.5,1338.3 723.1,1345.6 C720.7,1352.8 720.7,1355.7 720.1,1362.8 C719.5,1369.8 719.8,1375.8 720.1,1380.8 C720.4,1385.9 720.4,1384.6 721.6,1388 C722.7,1391.5 724.3,1394.1 726.1,1398.1 C727.8,1402.2 728.4,1403.8 730.2,1408.3 C732,1412.7 733.1,1415.9 735.1,1420.3 C737.1,1424.7 737.8,1425.9 740.2,1430.3 C742.6,1434.7 744,1438.4 747.2,1442.4 C750.4,1446.5 751.7,1447.1 756.3,1450.6 C761,1454 764.6,1456.4 770.5,1459.6 C776.3,1462.8 780.5,1464 785.5,1466.6 C790.5,1469.2 791.6,1470.7 795.7,1472.7 C799.7,1474.7 801,1475.4 805.8,1476.7 C810.5,1478 816.7,1478.7 819.4,1479.2 C822.1,1479.7 816.7,1479.7 819.4,1479.2 C822.1,1478.7 828.3,1478 833,1476.7 C837.8,1475.4 839.1,1474.7 843.1,1472.7 C847.2,1470.7 848.3,1469.2 853.3,1466.6 C858.3,1464 862.5,1462.8 868.3,1459.6 C874.2,1456.4 877.8,1454 882.5,1450.6 C887.1,1447.1 888.4,1446.5 891.6,1442.4 C894.8,1438.4 896.2,1434.7 898.6,1430.3 C901,1425.9 901.7,1424.7 903.7,1420.3 C905.7,1415.9 906.8,1412.7 908.6,1408.3 C910.4,1403.8 911,1402.2 912.7,1398.1 C914.5,1394.1 916.1,1391.5 917.2,1388 C918.4,1384.6 918.4,1385.9 918.7,1380.8 C919,1375.8 919.3,1369.8 918.7,1362.8 C918.1,1355.7 918.1,1352.8 915.7,1345.6 C913.3,1338.3 911.1,1334.1 906.7,1326.5 C902.2,1318.8 899.6,1314.2 893.6,1307.4 C887.5,1300.5 883.4,1297.3 876.4,1292.2 C869.3,1287.2 866,1285.6 858.3,1282.2 C850.7,1278.8 845.9,1277.2 838.1,1275.1 C830.3,1273.1 826.9,1272.1 819.4,1272.1Z" fill="none" stroke="#22dd22" stroke-width="0.9"/>
<path d="M819.4,1271.1 C811.9,1271.1 807.4,1270.7 800.6,1272.1 C793.8,1273.5 792.6,1274.1 785.6,1278.1 C778.5,1282.1 772.1,1287 765.4,1292.2 C758.8,1297.5 756.3,1299.9 752.3,1304.3 C748.2,1308.8 748,1308.8 745.2,1314.4 C742.4,1320.1 740.6,1324.9 738.1,1332.6 C735.7,1340.2 734.3,1343 733.1,1352.6 C732,1362.3 732.4,1373.6 732.6,1380.8 C732.8,1388.1 733.1,1385.6 734.2,1389.1 C735.3,1392.5 736.4,1394.9 738.2,1398.1 C740,1401.3 742,1402.1 743.2,1405.2 C744.4,1408.2 742.4,1410.4 744.2,1413.2 C746,1416.1 749.8,1416.3 752.3,1419.3 C754.7,1422.3 754.5,1424.3 756.3,1428.4 C758.1,1432.4 758.5,1435.4 761.3,1439.5 C764.2,1443.5 766.7,1445.7 770.4,1448.5 C774,1451.3 775.5,1452.1 779.5,1453.6 C783.6,1455 786.8,1454.5 790.6,1455.5 C794.5,1456.5 795.4,1457.1 798.6,1458.6 C801.8,1460 802.6,1461.3 806.8,1462.6 C810.9,1463.9 816.9,1464.6 819.4,1465.1 C821.9,1465.6 816.9,1465.6 819.4,1465.1 C821.9,1464.6 827.9,1463.9 832,1462.6 C836.2,1461.3 837,1460 840.2,1458.6 C843.4,1457.1 844.3,1456.5 848.2,1455.5 C852,1454.5 855.2,1455 859.3,1453.6 C863.3,1452.1 864.8,1451.3 868.4,1448.5 C872.1,1445.7 874.6,1443.5 877.5,1439.5 C880.3,1435.4 880.7,1432.4 882.5,1428.4 C884.3,1424.3 884.1,1422.3 886.5,1419.3 C889,1416.3 892.8,1416.1 894.6,1413.2 C896.4,1410.4 894.4,1408.2 895.6,1405.2 C896.8,1402.1 898.8,1401.3 900.6,1398.1 C902.4,1394.9 903.5,1392.5 904.6,1389.1 C905.7,1385.6 906,1388.1 906.2,1380.8 C906.4,1373.6 906.8,1362.3 905.7,1352.6 C904.5,1343 903.1,1340.2 900.7,1332.6 C898.2,1324.9 896.4,1320.1 893.6,1314.4 C890.8,1308.8 890.6,1308.8 886.5,1304.3 C882.5,1299.9 880,1297.5 873.4,1292.2 C866.7,1287 860.3,1282.1 853.2,1278.1 C846.2,1274.1 845,1273.5 838.2,1272.1 C831.4,1270.7 826.9,1271.1 819.4,1271.1Z" fill="none" stroke="#ee2222" stroke-width="0.9"/>
<path d="M819.4,1266.5 C815.9,1266.5 815.4,1266.2 810.7,1267.5 C805.9,1268.9 801.7,1269.8 795.7,1273.1 C789.6,1276.4 785.5,1279.5 780.5,1284.1 C775.4,1288.8 774.5,1291.6 770.4,1296.2 C766.4,1300.9 764.4,1302.7 760.4,1307.3 C756.3,1312 753.7,1314.8 750.3,1319.4 C746.8,1324 745.4,1325.9 743.2,1330.6 C741,1335.2 740.2,1337.2 739.2,1342.6 C738.2,1348 738,1350.1 738.2,1357.7 C738.4,1365.4 739.4,1374.8 740.2,1380.9 C741,1386.9 741,1384.2 742.2,1388 C743.4,1391.9 743.9,1395.3 746.3,1400.2 C748.7,1405 751.9,1409.2 754.3,1412.2 C756.7,1415.2 757.1,1413.2 758.4,1415.3 C759.6,1417.3 757.9,1419.9 760.3,1422.4 C762.8,1424.8 766.6,1425.9 770.4,1427.3 C774.3,1428.7 776.3,1427.6 779.5,1429.4 C782.7,1431.2 784.7,1433.6 786.5,1436.4 C788.3,1439.2 786.7,1442 788.5,1443.5 C790.3,1445 791.4,1443.8 795.6,1444 C799.8,1444.2 805.7,1443.2 809.7,1444.5 C813.7,1445.8 813.8,1448.7 815.8,1450.5 C817.7,1452.3 818.7,1453 819.4,1453.6 C820.1,1454.2 818.7,1454.2 819.4,1453.6 C820.1,1453 821.1,1452.3 823,1450.5 C825,1448.7 825.1,1445.8 829.1,1444.5 C833.1,1443.2 839,1444.2 843.2,1444 C847.4,1443.8 848.5,1445 850.3,1443.5 C852.1,1442 850.5,1439.2 852.3,1436.4 C854.1,1433.6 856.1,1431.2 859.3,1429.4 C862.5,1427.6 864.5,1428.7 868.4,1427.3 C872.2,1425.9 876,1424.8 878.5,1422.4 C880.9,1419.9 879.2,1417.3 880.4,1415.3 C881.7,1413.2 882.1,1415.2 884.5,1412.2 C886.9,1409.2 890.1,1405 892.5,1400.2 C894.9,1395.3 895.4,1391.9 896.6,1388 C897.8,1384.2 897.8,1386.9 898.6,1380.9 C899.4,1374.8 900.4,1365.4 900.6,1357.7 C900.8,1350.1 900.6,1348 899.6,1342.6 C898.6,1337.2 897.8,1335.2 895.6,1330.6 C893.4,1325.9 892,1324 888.5,1319.4 C885.1,1314.8 882.5,1312 878.4,1307.3 C874.4,1302.7 872.4,1300.9 868.4,1296.2 C864.3,1291.6 863.4,1288.8 858.3,1284.1 C853.3,1279.5 849.2,1276.4 843.1,1273.1 C837.1,1269.8 832.9,1268.9 828.1,1267.5 C823.4,1266.2 822.9,1266.5 819.4,1266.5Z" fill="none" stroke="#3333dd" stroke-width="0.9"/>
<line x1="811" y1="1266.8" x2="827.5" y2="1266.8" stroke="#22226a" stroke-width="1.5"/>
<text x="646" y="1272.3" font-family="'Liberation Sans', Arial, sans-serif" font-weight="bold" font-size="6" fill="#222" text-decoration="underline">400Hz</text>
<text x="646" y="1278.8" font-family="'Liberation Sans', Arial, sans-serif" font-weight="bold" font-size="6" fill="#33ee33" text-decoration="underline">800Hz</text>
<text x="646" y="1285.2" font-family="'Liberation Sans', Arial, sans-serif" font-weight="bold" font-size="6" fill="#ee2222" text-decoration="underline">1200Hz</text>
<text x="646" y="1291.7" font-family="'Liberation Sans', Arial, sans-serif" font-weight="bold" font-size="6" fill="#3333dd" text-decoration="underline">4000Hz</text>
</g>
<text transform="translate(499.06,142.80) scale(0.944,1)" font-family="'Liberation Sans', Arial, sans-serif" font-weight="bold" font-size="22.75" fill="#050505">Frequency</text>
<text transform="translate(616.53,142.80) scale(0.957,1)" font-family="'Liberation Sans', Arial, sans-serif" font-weight="bold" font-size="22.75" fill="#050505">Response</text>
<text transform="translate(288.50,543.80) scale(0.949,1)" font-family="'Liberation Sans', Arial, sans-serif" font-weight="normal" font-size="18.00" fill="#050505">40</text>
<text transform="translate(287.47,490.81) scale(1.001,1)" font-family="'Liberation Sans', Arial, sans-serif" font-weight="normal" font-size="18.00" fill="#050505">50</text>
<text transform="translate(287.47,437.83) scale(1.001,1)" font-family="'Liberation Sans', Arial, sans-serif" font-weight="normal" font-size="18.00" fill="#050505">60</text>
<text transform="translate(287.47,384.84) scale(1.001,1)" font-family="'Liberation Sans', Arial, sans-serif" font-weight="normal" font-size="18.00" fill="#050505">70</text>
<text transform="translate(287.47,331.86) scale(1.001,1)" font-family="'Liberation Sans', Arial, sans-serif" font-weight="normal" font-size="18.00" fill="#050505">80</text>
<text transform="translate(287.47,278.87) scale(1.001,1)" font-family="'Liberation Sans', Arial, sans-serif" font-weight="normal" font-size="18.00" fill="#050505">90</text>
<text transform="translate(279.04,225.89) scale(0.964,1)" font-family="'Liberation Sans', Arial, sans-serif" font-weight="normal" font-size="18.00" fill="#050505">100</text>
<text transform="translate(279.01,172.90) scale(0.986,1)" font-family="'Liberation Sans', Arial, sans-serif" font-weight="normal" font-size="18.00" fill="#050505">110</text>
<text transform="translate(323.40,565.90) scale(1.000,1)" text-anchor="middle" font-family="'Liberation Sans', Arial, sans-serif" font-weight="normal" font-size="17.90" fill="#050505">20</text>
<text transform="translate(401.26,565.90) scale(1.000,1)" text-anchor="middle" font-family="'Liberation Sans', Arial, sans-serif" font-weight="normal" font-size="17.90" fill="#050505">50</text>
<text transform="translate(460.17,565.90) scale(1.000,1)" text-anchor="middle" font-family="'Liberation Sans', Arial, sans-serif" font-weight="normal" font-size="17.90" fill="#050505">100</text>
<text transform="translate(519.07,565.90) scale(1.000,1)" text-anchor="middle" font-family="'Liberation Sans', Arial, sans-serif" font-weight="normal" font-size="17.90" fill="#050505">200</text>
<text transform="translate(596.93,565.90) scale(1.000,1)" text-anchor="middle" font-family="'Liberation Sans', Arial, sans-serif" font-weight="normal" font-size="17.90" fill="#050505">500</text>
<text transform="translate(655.83,565.90) scale(1.000,1)" text-anchor="middle" font-family="'Liberation Sans', Arial, sans-serif" font-weight="normal" font-size="17.90" fill="#050505">1k</text>
<text transform="translate(714.73,565.90) scale(1.000,1)" text-anchor="middle" font-family="'Liberation Sans', Arial, sans-serif" font-weight="normal" font-size="17.90" fill="#050505">2k</text>
<text transform="translate(792.60,565.90) scale(1.000,1)" text-anchor="middle" font-family="'Liberation Sans', Arial, sans-serif" font-weight="normal" font-size="17.90" fill="#050505">5k</text>
<text transform="translate(851.50,565.90) scale(1.000,1)" text-anchor="middle" font-family="'Liberation Sans', Arial, sans-serif" font-weight="normal" font-size="17.90" fill="#050505">10k</text>
<text transform="translate(910.40,565.90) scale(1.000,1)" text-anchor="middle" font-family="'Liberation Sans', Arial, sans-serif" font-weight="normal" font-size="17.90" fill="#050505">20k</text>
<text transform="translate(525.54,613.70) scale(0.951,1)" font-family="'Liberation Sans', Arial, sans-serif" font-weight="bold" font-size="22.61" fill="#050505">Frequency</text>
<text transform="translate(643.53,613.70) scale(0.971,1)" font-family="'Liberation Sans', Arial, sans-serif" font-weight="bold" font-size="22.61" fill="#050505">(Hz)</text>
<text transform="translate(799.87,197.60) scale(1.073,1)" font-family="'Liberation Sans', Arial, sans-serif" font-weight="bold" font-size="22.17" fill="#050505">PN-8P</text>
<text transform="translate(259.50,467.96) rotate(-90) scale(0.962,1)" font-family="'Liberation Sans', Arial, sans-serif" font-weight="bold" font-size="22.46" fill="#050505">SPL</text>
<text transform="translate(259.50,419.51) rotate(-90) scale(0.954,1)" font-family="'Liberation Sans', Arial, sans-serif" font-weight="bold" font-size="22.46" fill="#050505">dB</text>
<text transform="translate(259.50,382.94) rotate(-90) scale(0.943,1)" font-family="'Liberation Sans', Arial, sans-serif" font-weight="bold" font-size="22.46" fill="#050505">(@1m</text>
<text transform="translate(259.50,316.61) rotate(-90) scale(1.005,1)" font-family="'Liberation Sans', Arial, sans-serif" font-weight="bold" font-size="22.46" fill="#050505">/</text>
<text transform="translate(259.50,303.46) rotate(-90) scale(0.959,1)" font-family="'Liberation Sans', Arial, sans-serif" font-weight="bold" font-size="22.46" fill="#050505">1W)</text>
<text transform="translate(520.03,717.60) scale(0.942,1)" font-family="'Liberation Sans', Arial, sans-serif" font-weight="bold" font-size="14.78" fill="#050505">Impedance</text>
<text transform="translate(600.06,717.60) scale(0.942,1)" font-family="'Liberation Sans', Arial, sans-serif" font-weight="bold" font-size="14.78" fill="#050505">Response</text>
<text transform="translate(853.51,756.70) scale(0.978,1)" font-family="'Liberation Sans', Arial, sans-serif" font-weight="bold" font-size="15.51" fill="#050505">PN-8P</text>
<text transform="translate(557.48,1138.80) scale(1.038,1)" font-family="'Liberation Sans', Arial, sans-serif" font-weight="bold" font-size="13.62" fill="#050505">Frequency</text>
<text transform="translate(634.44,1138.80) scale(1.043,1)" font-family="'Liberation Sans', Arial, sans-serif" font-weight="bold" font-size="13.62" fill="#050505">(Hz)</text>
<text transform="translate(249.80,958.97) rotate(-90) scale(0.973,1)" font-family="'Liberation Sans', Arial, sans-serif" font-weight="bold" font-size="14.49" fill="#050505">Impedance</text>
<text transform="translate(249.80,879.00) rotate(-90) scale(0.941,1)" font-family="'Liberation Sans', Arial, sans-serif" font-weight="bold" font-size="14.49" fill="#050505">(&#937;)</text>
<text transform="translate(498.44,1217.30) scale(1.039,1)" font-family="'Liberation Sans', Arial, sans-serif" font-weight="bold" font-size="16.50" fill="#050505">PN-8P</text>
<text transform="translate(554.39,1217.30) scale(1.257,1)" font-family="'Liberation Sans', Arial, sans-serif" font-weight="bold" font-size="16.50" fill="#050505">-</text>
<text transform="translate(564.46,1217.30) scale(1.030,1)" font-family="'Liberation Sans', Arial, sans-serif" font-weight="bold" font-size="16.50" fill="#050505">Polar</text>
<text transform="translate(614.46,1217.30) scale(1.039,1)" font-family="'Liberation Sans', Arial, sans-serif" font-weight="bold" font-size="16.50" fill="#050505">Graphs</text>
<text transform="translate(408.42,1264.70) scale(1.034,1)" font-family="'Liberation Sans', Arial, sans-serif" font-weight="bold" font-size="10.20" fill="#050505">0<tspan font-size="0.7em" dy="-0.5em">o</tspan></text>
<text transform="translate(337.40,1280.70) scale(1.124,1)" font-family="'Liberation Sans', Arial, sans-serif" font-weight="bold" font-size="10.20" fill="#050505">-30<tspan font-size="0.7em" dy="-0.5em">o</tspan></text>
<text transform="translate(467.47,1280.40) scale(1.121,1)" font-family="'Liberation Sans', Arial, sans-serif" font-weight="bold" font-size="10.20" fill="#050505">30<tspan font-size="0.7em" dy="-0.5em">o</tspan></text>
<text transform="translate(287.00,1325.70) scale(1.064,1)" font-family="'Liberation Sans', Arial, sans-serif" font-weight="bold" font-size="10.20" fill="#050505">-60<tspan font-size="0.7em" dy="-0.5em">o</tspan></text>
<text transform="translate(514.00,1327.00) scale(1.055,1)" font-family="'Liberation Sans', Arial, sans-serif" font-weight="bold" font-size="10.20" fill="#050505">60<tspan font-size="0.7em" dy="-0.5em">o</tspan></text>
<text transform="translate(267.90,1387.90) scale(1.134,1)" font-family="'Liberation Sans', Arial, sans-serif" font-weight="bold" font-size="10.20" fill="#050505">-90<tspan font-size="0.7em" dy="-0.5em">o</tspan></text>
<text transform="translate(529.46,1389.50) scale(1.081,1)" font-family="'Liberation Sans', Arial, sans-serif" font-weight="bold" font-size="10.20" fill="#050505">90<tspan font-size="0.7em" dy="-0.5em">o</tspan></text>
<text transform="translate(282.96,1452.50) scale(1.084,1)" font-family="'Liberation Sans', Arial, sans-serif" font-weight="bold" font-size="10.20" fill="#050505">-120<tspan font-size="0.7em" dy="-0.5em">o</tspan></text>
<text transform="translate(512.87,1448.60) scale(1.093,1)" font-family="'Liberation Sans', Arial, sans-serif" font-weight="bold" font-size="10.20" fill="#050505">120<tspan font-size="0.7em" dy="-0.5em">o</tspan></text>
<text transform="translate(335.00,1497.10) scale(1.065,1)" font-family="'Liberation Sans', Arial, sans-serif" font-weight="bold" font-size="10.20" fill="#050505">-150<tspan font-size="0.7em" dy="-0.5em">o</tspan></text>
<text transform="translate(468.47,1492.70) scale(1.058,1)" font-family="'Liberation Sans', Arial, sans-serif" font-weight="bold" font-size="10.20" fill="#050505">150<tspan font-size="0.7em" dy="-0.5em">o</tspan></text>
<text transform="translate(402.91,1511.10) scale(1.083,1)" font-family="'Liberation Sans', Arial, sans-serif" font-weight="bold" font-size="10.20" fill="#050505">180<tspan font-size="0.7em" dy="-0.5em">o</tspan></text>
<text transform="translate(817.92,1262.80) scale(1.170,1)" font-family="'Liberation Sans', Arial, sans-serif" font-weight="bold" font-size="10.20" fill="#050505">0<tspan font-size="0.7em" dy="-0.5em">o</tspan></text>
<text transform="translate(747.40,1279.00) scale(1.124,1)" font-family="'Liberation Sans', Arial, sans-serif" font-weight="bold" font-size="10.20" fill="#050505">-30<tspan font-size="0.7em" dy="-0.5em">o</tspan></text>
<text transform="translate(877.44,1279.00) scale(1.072,1)" font-family="'Liberation Sans', Arial, sans-serif" font-weight="bold" font-size="10.20" fill="#050505">30<tspan font-size="0.7em" dy="-0.5em">o</tspan></text>
<text transform="translate(696.93,1323.10) scale(1.114,1)" font-family="'Liberation Sans', Arial, sans-serif" font-weight="bold" font-size="10.20" fill="#050505">-60<tspan font-size="0.7em" dy="-0.5em">o</tspan></text>
<text transform="translate(923.40,1325.00) scale(1.122,1)" font-family="'Liberation Sans', Arial, sans-serif" font-weight="bold" font-size="10.20" fill="#050505">60<tspan font-size="0.7em" dy="-0.5em">o</tspan></text>
<text transform="translate(678.00,1385.80) scale(1.105,1)" font-family="'Liberation Sans', Arial, sans-serif" font-weight="bold" font-size="10.20" fill="#050505">-90<tspan font-size="0.7em" dy="-0.5em">o</tspan></text>
<text transform="translate(938.97,1387.30) scale(1.108,1)" font-family="'Liberation Sans', Arial, sans-serif" font-weight="bold" font-size="10.20" fill="#050505">90<tspan font-size="0.7em" dy="-0.5em">o</tspan></text>
<text transform="translate(693.94,1450.70) scale(1.068,1)" font-family="'Liberation Sans', Arial, sans-serif" font-weight="bold" font-size="10.20" fill="#050505">-120<tspan font-size="0.7em" dy="-0.5em">o</tspan></text>
<text transform="translate(923.43,1446.50) scale(1.071,1)" font-family="'Liberation Sans', Arial, sans-serif" font-weight="bold" font-size="10.20" fill="#050505">120<tspan font-size="0.7em" dy="-0.5em">o</tspan></text>
<text transform="translate(745.00,1495.40) scale(1.081,1)" font-family="'Liberation Sans', Arial, sans-serif" font-weight="bold" font-size="10.20" fill="#050505">-150<tspan font-size="0.7em" dy="-0.5em">o</tspan></text>
<text transform="translate(878.39,1490.60) scale(1.082,1)" font-family="'Liberation Sans', Arial, sans-serif" font-weight="bold" font-size="10.20" fill="#050505">150<tspan font-size="0.7em" dy="-0.5em">o</tspan></text>
<text transform="translate(812.40,1508.70) scale(1.111,1)" font-family="'Liberation Sans', Arial, sans-serif" font-weight="bold" font-size="10.20" fill="#050505">180<tspan font-size="0.7em" dy="-0.5em">o</tspan></text>
<rect x="1021" y="1584" width="54" height="25" fill="#404040"/>
</svg>
</body></html>
